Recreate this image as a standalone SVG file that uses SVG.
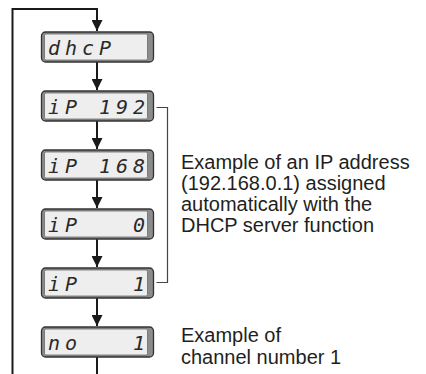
<svg xmlns="http://www.w3.org/2000/svg" width="426" height="374" viewBox="0 0 426 374">
<style>
.bez{fill:#8c8c8c;stroke:#333;stroke-width:1.3}
.pan{fill:#eeeeee;stroke:#6a6a6a;stroke-width:0.8}
.seg{font-family:"DejaVu Sans Mono",monospace;font-style:italic;font-size:20px;fill:#2a2a2a}
.lbl{font-family:"Liberation Sans",Arial,sans-serif;font-size:20px;fill:#231f20}
.ln{fill:none;stroke:#1a1a1a;stroke-width:2}
.br{fill:none;stroke:#444;stroke-width:1.2}
</style>
<defs>
<marker id="ah" viewBox="0 0 10 10" refX="10" refY="5" markerWidth="11" markerHeight="11" markerUnits="userSpaceOnUse" orient="auto">
<path d="M0,0 L10,5 L0,10 Z" fill="#1a1a1a"/>
</marker>
<g id="lcd">
<rect class="bez" x="41.5" y="0.5" width="112" height="30" rx="4"/>
<rect class="pan" x="44.5" y="2.5" width="103" height="26" rx="1.5"/>
</g>
</defs>
<g id="connectors">
<path class="ln" d="M97,374 V357"/>
<path class="ln" d="M12.5,374 V9 H97 V31" marker-end="url(#ah)"/>
<path class="ln" d="M97,62 V90" marker-end="url(#ah)"/>
<path class="ln" d="M97,121 V149" marker-end="url(#ah)"/>
<path class="ln" d="M97,180 V208" marker-end="url(#ah)"/>
<path class="ln" d="M97,239 V267" marker-end="url(#ah)"/>
<path class="ln" d="M97,298 V326" marker-end="url(#ah)"/>
<path class="br" d="M156.5,107.5 H167.5 V282.5 H156.5"/>
</g>
<g id="n-dhcp">
<use href="#lcd" y="31.5"/>
<text class="seg" x="48 65 82 99" y="55">dhcP</text>
</g>
<g id="n-ip192">
<use href="#lcd" y="90.5"/>
<text class="seg" x="48 65" y="114">iP</text>
<text class="seg" x="99 116 133" y="114">192</text>
</g>
<g id="n-ip168">
<use href="#lcd" y="149.5"/>
<text class="seg" x="48 65" y="173">iP</text>
<text class="seg" x="99 116 133" y="173">168</text>
</g>
<g id="n-ip0">
<use href="#lcd" y="208.5"/>
<text class="seg" x="48 65" y="232">iP</text>
<text class="seg" x="133" y="232">0</text>
</g>
<g id="n-ip1">
<use href="#lcd" y="267.5"/>
<text class="seg" x="48 65" y="291">iP</text>
<text class="seg" x="133" y="291">1</text>
</g>
<g id="n-no1">
<use href="#lcd" y="326.5"/>
<text class="seg" x="48 65" y="350">no</text>
<text class="seg" x="133" y="350">1</text>
</g>
<g id="label-ip">
<text class="lbl" x="181" y="169">Example of an IP address</text>
<text class="lbl" x="181" y="190">(192.168.0.1) assigned</text>
<text class="lbl" x="181" y="211">automatically with the</text>
<text class="lbl" x="181" y="232">DHCP server function</text>
</g>
<g id="label-ch">
<text class="lbl" x="181" y="342">Example of</text>
<text class="lbl" x="181" y="364">channel number 1</text>
</g>
</svg>
